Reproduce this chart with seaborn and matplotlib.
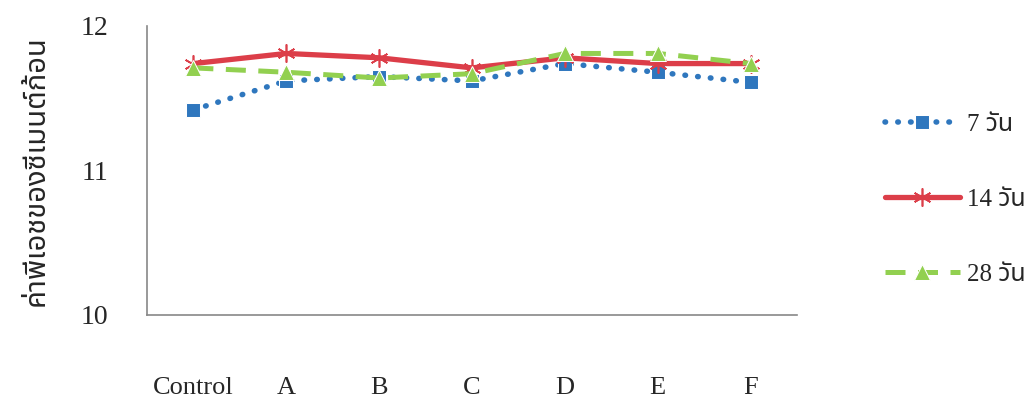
import pandas as pd
import seaborn as sns
import matplotlib.pyplot as plt
from matplotlib.ticker import FixedLocator, NullFormatter

categories = ["Control", "A", "B", "C", "D", "E", "F"]
ph_7 = [11.42, 11.62, 11.65, 11.62, 11.74, 11.68, 11.61]
ph_14 = [11.74, 11.81, 11.78, 11.71, 11.78, 11.74, 11.74]
ph_28 = [11.71, 11.68, 11.64, 11.67, 11.81, 11.81, 11.74]
series_names = ["7 วัน", "14 วัน", "28 วัน"]
y_label = "ค่าพีเอชของซีเมนต์ก้อน"

sns.set_style("white")
plt.rcParams["font.family"] = ["Liberation Serif", "Noto Sans Thai", "Loma",
                               "Garuda", "Norasi", "DejaVu Sans"]

fig = plt.figure(figsize=(10.32, 4.03), dpi=100)
ax = fig.add_axes([0.1424, 0.2184, 0.6299, 0.7171])

styles = [
    dict(color="#2F77BE", linestyle=(0, (0.1, 2.2)), linewidth=4.0,
         marker="s", markersize=10, dash_capstyle="round"),
    dict(color="#DC3E49", linestyle="-", linewidth=3.8,
         marker=(6, 2, 0), markersize=13, markeredgewidth=1.2,
         markeredgecolor="#DC3E49"),
    dict(color="#92D050", linestyle=(0, (4, 2.5)), linewidth=3.6,
         marker="^", markersize=11),
]

for name, vals, st in zip(series_names, [ph_7, ph_14, ph_28], styles):
    df = pd.DataFrame({"cat": categories, "ph": vals})
    sns.lineplot(data=df, x="cat", y="ph", ax=ax, label=name, **st)

ax.set_ylim(10, 12)
ax.set_xlim(-0.5, len(categories) - 0.5)
ax.set_yticks([10, 11, 12])
ax.set_yticklabels(["10", "11", "12"], fontsize=20)

# tick marks between categories, labels at centres
ax.xaxis.set_major_locator(FixedLocator([i - 0.5 for i in range(len(categories) + 1)]))
ax.xaxis.set_major_formatter(NullFormatter())
ax.xaxis.set_minor_locator(FixedLocator(range(len(categories))))
ax.set_xticklabels(categories, minor=True, fontsize=19)
ax.tick_params(axis="x", which="major", direction="out", length=9, width=1, color="#888888")
ax.tick_params(axis="x", which="minor", length=0, pad=45)
ax.tick_params(axis="y", direction="inout", length=12, width=1, color="#888888", pad=22)

for s in ["top", "right"]:
    ax.spines[s].set_visible(False)
for s in ["left", "bottom"]:
    ax.spines[s].set_color("#888888")
    ax.spines[s].set_linewidth(1.2)

ax.set_xlabel("")
ax.set_ylabel(y_label, fontsize=21, fontweight="bold", labelpad=22)

ax.legend(loc="center left", bbox_to_anchor=(1.1, 0.40), frameon=False,
          fontsize=18, handlelength=3.0, labelspacing=2.1, handletextpad=0.3)

fig.savefig("out.png", dpi=100)
